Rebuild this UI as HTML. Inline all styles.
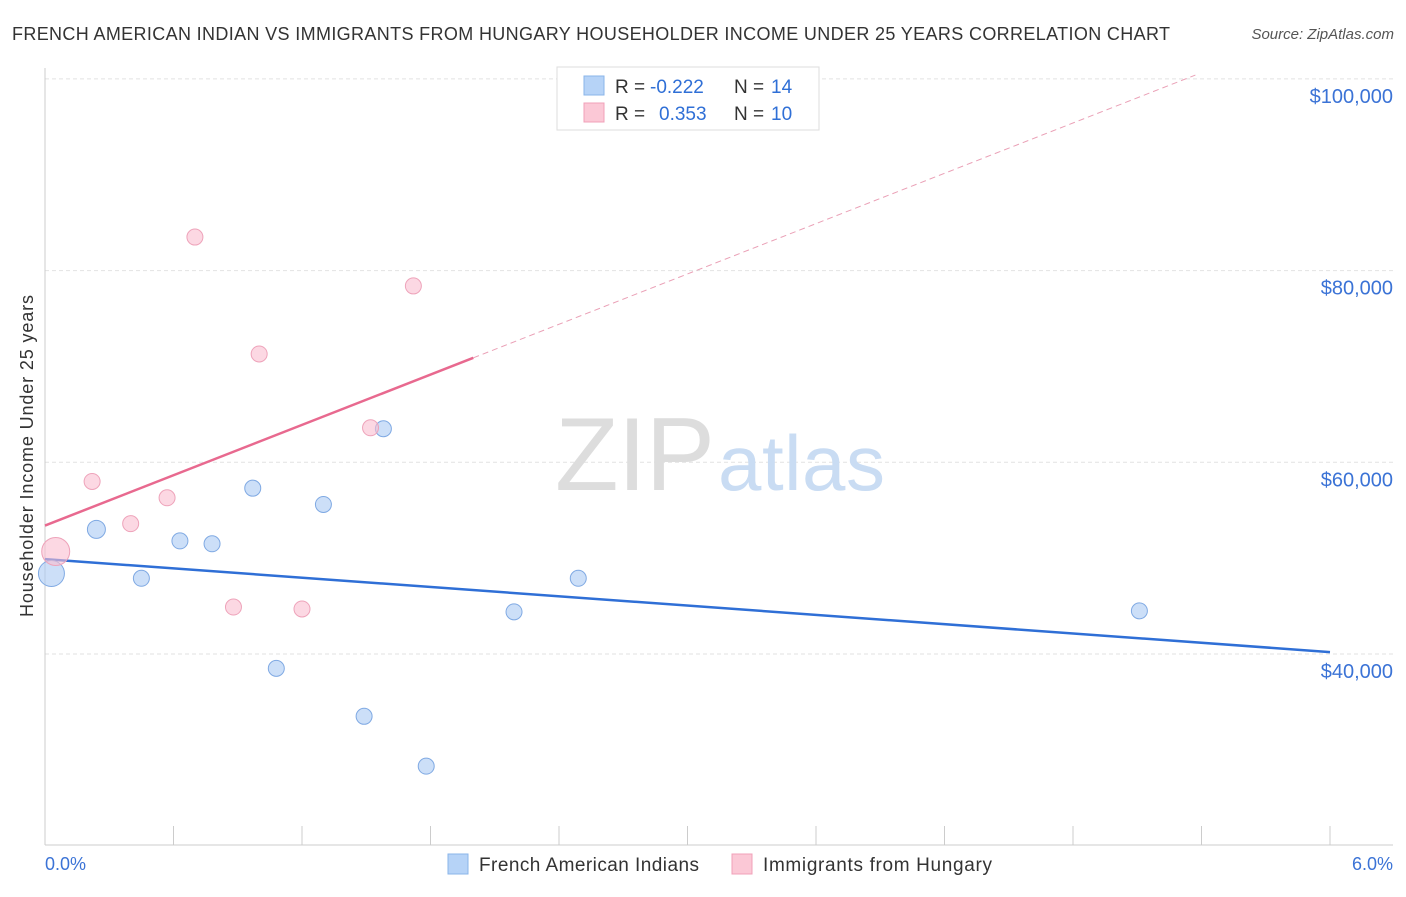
<!DOCTYPE html>
<html><head><meta charset="utf-8"><style>
body{margin:0;background:#fff;font-family:"Liberation Sans",sans-serif;}
svg text{font-family:"Liberation Sans",sans-serif;}
</style></head><body>
<svg width="1406" height="892">
<text x="12" y="40" font-size="18" fill="#333" textLength="1158">FRENCH AMERICAN INDIAN VS IMMIGRANTS FROM HUNGARY HOUSEHOLDER INCOME UNDER 25 YEARS CORRELATION CHART</text>
<text x="1394" y="39" font-size="15" fill="#555" font-style="italic" text-anchor="end">Source: ZipAtlas.com</text>
<g id="grid"></g>
<text x="555" y="490" font-size="104" fill="#ddd" font-family="Liberation Serif" textLength="160">ZIP</text>
<text x="718" y="490" font-size="78" fill="#c9dcf3" textLength="167">atlas</text>
<line x1="45" y1="68" x2="45" y2="845" stroke="#ccc"/>
<line x1="45" y1="845" x2="1393" y2="845" stroke="#ccc"/>
<g id="ticks"></g>
<g id="lines"></g>
<g id="points"></g>
<text x="45" y="870" font-size="18" fill="#3b73d6">0.0%</text>
<text x="1393" y="870" font-size="18" fill="#3b73d6" text-anchor="end">6.0%</text>
<text transform="translate(33,456) rotate(-90)" font-size="18" fill="#333" text-anchor="middle" textLength="322">Householder Income Under 25 years</text>
<g>
<rect x="557" y="67" width="262" height="63" fill="#fff" stroke="#ddd"/>
<rect x="584" y="76" width="20" height="19" fill="#b6d3f7" stroke="#8ab4ea"/>
<rect x="584" y="103" width="20" height="19" fill="#fbc8d6" stroke="#f0a0b8"/>
<text x="615" y="93" font-size="19" fill="#333">R = <tspan x="650" fill="#2f6fd6">-0.222</tspan><tspan x="734">N = </tspan><tspan x="771" fill="#2f6fd6">14</tspan></text>
<text x="615" y="120" font-size="19" fill="#333">R = <tspan x="659" fill="#2f6fd6">0.353</tspan><tspan x="734">N = </tspan><tspan x="771" fill="#2f6fd6">10</tspan></text>
</g>
<g>
<rect x="448" y="854" width="20" height="20" fill="#b6d3f7" stroke="#8ab4ea"/>
<text x="479" y="871" font-size="19" fill="#333" textLength="220">French American Indians</text>
<rect x="732" y="854" width="20" height="20" fill="#fbc8d6" stroke="#f0a0b8"/>
<text x="763" y="871" font-size="19" fill="#333" textLength="229">Immigrants from Hungary</text>
</g>
</svg>
<script>
const yTicks=[40000,60000,80000,100000];
const yTickLabels=["$40,000","$60,000","$80,000","$100,000"];
const xTicks=[0,0.6,1.2,1.8,2.4,3.0,3.6,4.2,4.8,5.4,6.0];
const blueX=[0.03,0.24,0.45,0.63,0.78,0.97,1.08,1.30,1.49,1.58,1.78,2.19,2.49,5.11];
const blueY=[48400,53000,47900,51800,51500,57300,38500,55600,33500,63500,28300,44400,47900,44500];
const blueR=[13,9,8,8,8,8,8,8,8,8,8,8,8,8];
const pinkX=[0.05,0.22,0.40,0.57,0.70,0.88,1.00,1.20,1.52,1.72];
const pinkY=[50700,58000,53600,56300,83500,44900,71300,44700,63600,78400];
const pinkR=[14,8,8,8,8,8,8,8,8,8];
const blueTrend=[49900,40200];
const pinkTrend=[53400,8750];
const NS="http://www.w3.org/2000/svg";
const X=v=>45+v/6*1285, Y=v=>654-(v-40000)*191.7/20000;
function mk(p,t,a){const e=document.createElementNS(NS,t);for(const k in a)e.setAttribute(k,a[k]);document.getElementById(p).appendChild(e);return e;}
yTicks.forEach((v,i)=>{
 let l=mk('grid','line',{x1:45,x2:1393,y1:Y(v),y2:Y(v),stroke:'#e2e2e2','stroke-dasharray':'4,3'});
 
 
 let t=mk('grid','text',{x:1393,y:Y(v)+24,'font-size':20,fill:'#3b73d6','text-anchor':'end'});
 t.textContent=yTickLabels[i];
 
 
});
xTicks.forEach(v=>{
 let l=mk('ticks','line',{x1:X(v),x2:X(v),y1:826,y2:845,stroke:'#ccc'});
 
 
});
let bl=mk('lines','line',{x1:X(0),y1:Y(blueTrend[0]),x2:X(6),y2:Y(blueTrend[1]),stroke:'#2f6fd6','stroke-width':2.5});


const pe=2.0, pd=(100400-pinkTrend[0])/pinkTrend[1];
let pl=mk('lines','line',{x1:X(0),y1:Y(pinkTrend[0]),x2:X(pe),y2:Y(pinkTrend[0]+pinkTrend[1]*pe),stroke:'#e8698f','stroke-width':2.5});


let pdl=mk('lines','line',{x1:X(pe),y1:Y(pinkTrend[0]+pinkTrend[1]*pe),x2:X(pd),y2:Y(pinkTrend[0]+pinkTrend[1]*pd),stroke:'#eaa0b6','stroke-width':1,'stroke-dasharray':'6,4'});


blueX.forEach((v,i)=>{
 let c=mk('points','circle',{cx:X(v),cy:Y(blueY[i]),r:blueR[i],fill:'rgba(170,202,243,0.6)',stroke:'#7fa9e3'});
 
 
});
pinkX.forEach((v,i)=>{
 let c=mk('points','circle',{cx:X(v),cy:Y(pinkY[i]),r:pinkR[i],fill:'rgba(250,190,208,0.6)',stroke:'#eea3ba'});
 
 
});
</script>
</body></html>
